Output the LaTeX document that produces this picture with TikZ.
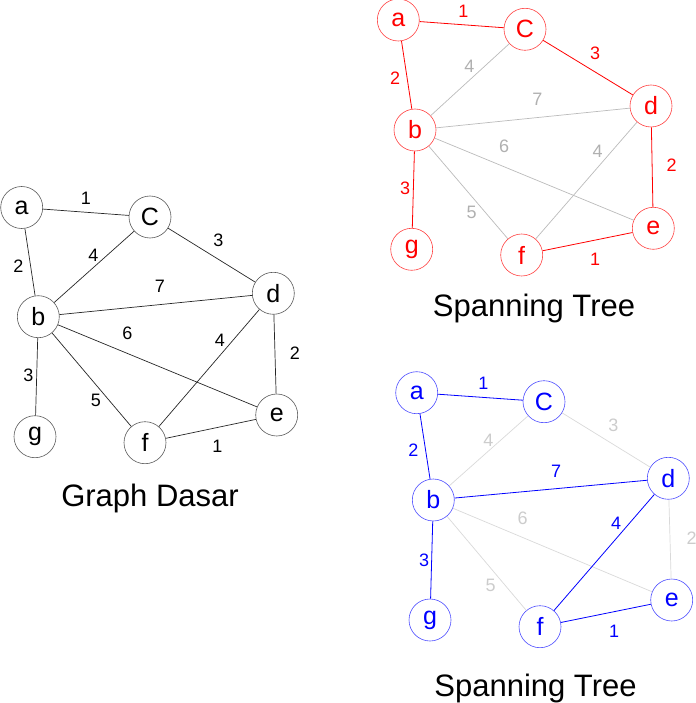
\documentclass[tikz,border=0pt]{standalone}
\usepackage{fontspec}
\setmainfont{Liberation Sans}
\definecolor{grayA}{HTML}{BBBBBB}
\definecolor{grayB}{HTML}{D9D9D9}
\definecolor{grayAt}{HTML}{B0B0B0}
\definecolor{grayBt}{HTML}{CCCCCC}
\begin{document}
\begin{tikzpicture}[x=1pt,y=-1pt,
  vtx/.style={circle,draw,minimum size=42pt,inner sep=0pt,line width=0.6pt,font=\fontsize{25}{30}\selectfont},
  bvtx/.style={vtx,draw=black!65,text=black},
  rvtx/.style={vtx,draw=red!75,text=red},
  uvtx/.style={vtx,draw=blue!70,text=blue},
  wlab/.style={font=\fontsize{18}{22}\selectfont,inner sep=0pt},
  ttl/.style={font=\fontsize{31}{37}\selectfont,anchor=base,inner sep=0pt},
  bedge/.style={draw=black!85,line width=0.7pt},
  redge/.style={draw=red,line width=0.8pt},
  gaedge/.style={draw=grayA,line width=0.7pt},
  uedge/.style={draw=blue,line width=0.8pt},
  gbedge/.style={draw=grayB,line width=0.7pt}]
\useasboundingbox (0,0) rectangle (695,703);

% ---------- Graph Dasar ----------
\node[bvtx] (a1) at (21.7,207.5) {a};
\node[bvtx] (C1) at (150,217) {C};
\node[bvtx] (b1) at (38.3,316.7) {b};
\node[bvtx] (d1) at (273.3,293.3) {d};
\node[bvtx] (e1) at (276.7,415) {e};
\node[bvtx] (g1) at (35,436.7) {g};
\node[bvtx] (f1) at (145,442.7) {f};
\draw[bedge] (a1) -- (C1);
\draw[bedge] (a1) -- (b1);
\draw[bedge] (b1) -- (C1);
\draw[bedge] (C1) -- (d1);
\draw[bedge] (b1) -- (d1);
\draw[bedge] (b1) -- (e1);
\draw[bedge] (d1) -- (f1);
\draw[bedge] (d1) -- (e1);
\draw[bedge] (b1) -- (g1);
\draw[bedge] (b1) -- (f1);
\draw[bedge] (f1) -- (e1);
\node[wlab] (l1a) at (86,198.3) {1};
\node[wlab] (l1b) at (18.3,266) {2};
\node[wlab] (l1c) at (93.3,255) {4};
\node[wlab] (l1d) at (218.3,240) {3};
\node[wlab] (l1e) at (160,286.7) {7};
\node[wlab] (l1f) at (127.3,333.3) {6};
\node[wlab] (l1g) at (220,340) {4};
\node[wlab] (l1h) at (295,353.3) {2};
\node[wlab] (l1i) at (28.3,375) {3};
\node[wlab] (l1j) at (96,400) {5};
\node[wlab] (l1k) at (217.3,446) {1};
\node[ttl] (t1) at (150,506.7) {Graph Dasar};

% ---------- Spanning Tree (red) ----------
\node[rvtx] (a2) at (398.3,20) {a};
\node[rvtx] (C2) at (525,29.3) {C};
\node[rvtx] (b2) at (415,130) {b};
\node[rvtx] (d2) at (651,106) {d};
\node[rvtx] (e2) at (653.3,228.3) {e};
\node[rvtx] (g2) at (411.7,249.3) {g};
\node[rvtx] (f2) at (521.7,255) {f};
\draw[gaedge] (b2) -- (C2);
\draw[gaedge] (b2) -- (d2);
\draw[gaedge] (b2) -- (e2);
\draw[gaedge] (b2) -- (f2);
\draw[gaedge] (d2) -- (f2);
\draw[redge] (a2) -- (C2);
\draw[redge] (a2) -- (b2);
\draw[redge] (C2) -- (d2);
\draw[redge] (d2) -- (e2);
\draw[redge] (b2) -- (g2);
\draw[redge] (f2) -- (e2);
\node[wlab,text=red] (l2a) at (463.3,11.7) {1};
\node[wlab,text=red] (l2b) at (395,78.3) {2};
\node[wlab,text=grayAt] (l2c) at (469.3,66.7) {4};
\node[wlab,text=red] (l2d) at (595,53.3) {3};
\node[wlab,text=grayAt] (l2e) at (537.3,99.3) {7};
\node[wlab,text=grayAt] (l2f) at (504,146) {6};
\node[wlab,text=grayAt] (l2g) at (597.7,151.7) {4};
\node[wlab,text=red] (l2h) at (671.7,165) {2};
\node[wlab,text=red] (l2i) at (405,188.3) {3};
\node[wlab,text=grayAt] (l2j) at (471.7,212.7) {5};
\node[wlab,text=red] (l2k) at (595,259.3) {1};
\node[ttl] (t2) at (534,316.7) {Spanning Tree};

% ---------- Spanning Tree (blue) ----------
\node[uvtx] (a3) at (416.7,392.7) {a};
\node[uvtx] (C3) at (544,401.7) {C};
\node[uvtx] (b3) at (433.3,500) {b};
\node[uvtx] (d3) at (668.3,478.3) {d};
\node[uvtx] (e3) at (671.7,600) {e};
\node[uvtx] (g3) at (430,620) {g};
\node[uvtx] (f3) at (540,626.7) {f};
\draw[gbedge] (b3) -- (C3);
\draw[gbedge] (C3) -- (d3);
\draw[gbedge] (d3) -- (e3);
\draw[gbedge] (b3) -- (e3);
\draw[gbedge] (b3) -- (f3);
\draw[uedge] (a3) -- (C3);
\draw[uedge] (a3) -- (b3);
\draw[uedge] (b3) -- (d3);
\draw[uedge] (b3) -- (g3);
\draw[uedge] (d3) -- (f3);
\draw[uedge] (f3) -- (e3);
\node[wlab,text=blue] (l3a) at (483.3,383.3) {1};
\node[wlab,text=blue] (l3b) at (413.3,450) {2};
\node[wlab,text=grayBt] (l3c) at (488.3,440) {4};
\node[wlab,text=grayBt] (l3d) at (613.3,425) {3};
\node[wlab,text=blue] (l3e) at (556,471.7) {7};
\node[wlab,text=grayBt] (l3f) at (522.7,518.3) {6};
\node[wlab,text=blue] (l3g) at (616,523.3) {4};
\node[wlab,text=grayBt] (l3h) at (691.7,538.3) {2};
\node[wlab,text=blue] (l3i) at (424,560) {3};
\node[wlab,text=grayBt] (l3j) at (490.7,585) {5};
\node[wlab,text=blue] (l3k) at (614,631) {1};
\node[ttl] (t3) at (535.5,696) {Spanning Tree};
\end{tikzpicture}
\end{document}
